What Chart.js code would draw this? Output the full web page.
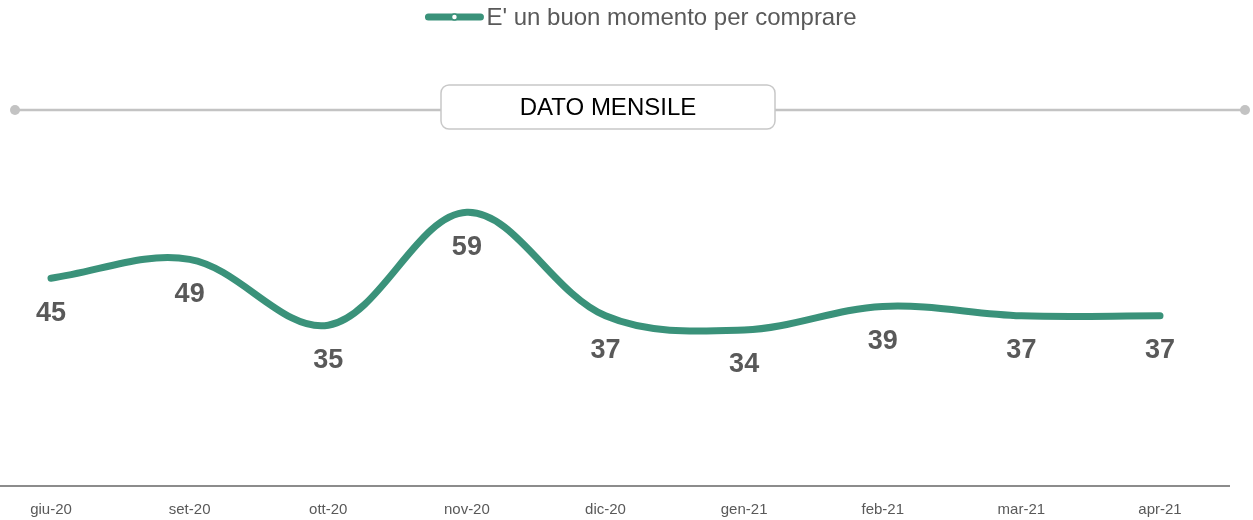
<!DOCTYPE html>
<html>
<head>
<meta charset="utf-8">
<script src="https://cdn.jsdelivr.net/npm/chart.js@4/dist/chart.umd.min.js"></script>
<style>
  html, body { margin: 0; padding: 0; background: #fff; }
  #wrap { width: 1253px; height: 520px; }
</style>
</head>
<body>
<div id="wrap"><canvas id="chart" width="1253" height="520"></canvas></div>
<script>
const months = ['giu-20', 'set-20', 'ott-20', 'nov-20', 'dic-20', 'gen-21', 'feb-21', 'mar-21', 'apr-21'];
const buonMomento = [45, 49, 35, 59, 37, 34, 39, 37, 37];
const seriesName = "E' un buon momento per comprare";
const boxTitle = 'DATO MENSILE';

const green = '#3A927A';
const grey = '#595959';
const fontFamily = '"Liberation Sans", Arial, sans-serif';

// legend drawn by hand: thick line with a small hollow marker, then the text
const legendPlugin = {
  id: 'lineLegend',
  afterDraw(chart) {
    const ctx = chart.ctx;
    ctx.save();
    ctx.font = '24px ' + fontFamily;
    const textW = ctx.measureText(seriesName).width;
    const symW = 58, gap = 3;
    const total = symW + gap + textW;
    const x0 = 641 - total / 2;
    const y = 17;
    ctx.strokeStyle = green;
    ctx.lineWidth = 7;
    ctx.lineCap = 'round';
    ctx.beginPath();
    ctx.moveTo(x0 + 3, y);
    ctx.lineTo(x0 + symW - 3, y);
    ctx.stroke();
    ctx.beginPath();
    ctx.arc(x0 + 29, y, 3, 0, Math.PI * 2);
    ctx.fillStyle = '#fff';
    ctx.fill();
    ctx.lineWidth = 1.5;
    ctx.stroke();
    ctx.fillStyle = grey;
    ctx.textBaseline = 'middle';
    ctx.textAlign = 'left';
    ctx.fillText(seriesName, x0 + symW + gap, y + 1);
    ctx.restore();
  }
};

// grey rule with end dots and the rounded "DATO MENSILE" box
const headerPlugin = {
  id: 'headerBox',
  afterDraw(chart) {
    const ctx = chart.ctx;
    const y = 110;
    ctx.save();
    ctx.strokeStyle = '#c3c3c3';
    ctx.lineWidth = 2.5;
    ctx.beginPath();
    ctx.moveTo(15, y);
    ctx.lineTo(1245, y);
    ctx.stroke();
    ctx.fillStyle = '#c3c3c3';
    [15, 1245].forEach(x => {
      ctx.beginPath();
      ctx.arc(x, y, 5, 0, Math.PI * 2);
      ctx.fill();
    });
    const bx = 441, by = 85, bw = 334, bh = 44;
    ctx.beginPath();
    ctx.roundRect(bx, by, bw, bh, 8);
    ctx.fillStyle = '#fff';
    ctx.fill();
    ctx.lineWidth = 1.5;
    ctx.strokeStyle = '#c8c8c8';
    ctx.stroke();
    ctx.fillStyle = '#000';
    ctx.font = '24px ' + fontFamily;
    ctx.textAlign = 'center';
    ctx.textBaseline = 'middle';
    ctx.fillText(boxTitle, bx + bw / 2, by + bh / 2 + 1);
    ctx.restore();
  }
};

// value labels under each point
const valuePlugin = {
  id: 'valueLabels',
  afterDatasetsDraw(chart) {
    const ctx = chart.ctx;
    const meta = chart.getDatasetMeta(0);
    ctx.save();
    ctx.fillStyle = grey;
    ctx.font = 'bold 27px ' + fontFamily;
    ctx.textAlign = 'center';
    ctx.textBaseline = 'middle';
    meta.data.forEach((pt, i) => {
      ctx.fillText(String(buonMomento[i]), pt.x, pt.y + 35);
    });
    ctx.restore();
  }
};

// x axis line running wider than the plot
const axisPlugin = {
  id: 'axisLine',
  beforeDatasetsDraw(chart) {
    const ctx = chart.ctx;
    ctx.save();
    ctx.strokeStyle = '#8c8c8c';
    ctx.lineWidth = 2;
    ctx.beginPath();
    ctx.moveTo(0, 486);
    ctx.lineTo(1230, 486);
    ctx.stroke();
    ctx.restore();
  }
};

new Chart(document.getElementById('chart'), {
  type: 'line',
  data: {
    labels: months,
    datasets: [{
      label: seriesName,
      data: buonMomento,
      borderColor: green,
      backgroundColor: green,
      borderWidth: 7,
      borderCapStyle: 'round',
      borderJoinStyle: 'round',
      pointRadius: 0,
      tension: 0.35,
      fill: false,
      clip: false
    }]
  },
  options: {
    responsive: false,
    animation: false,
    layout: { padding: { top: 40, left: 51, right: 93, bottom: 2 } },
    plugins: {
      legend: { display: false },
      tooltip: { enabled: false }
    },
    scales: {
      x: {
        offset: false,
        grid: { display: false, drawTicks: false },
        border: { display: false },
        afterFit: (scale) => { scale.height = 28; },
        ticks: {
          color: grey,
          font: { family: fontFamily, size: 15 },
          padding: 11,
          maxRotation: 0,
          autoSkip: false
        }
      },
      y: {
        display: false,
        min: 0,
        max: 95.6
      }
    }
  },
  plugins: [axisPlugin, valuePlugin, headerPlugin, legendPlugin]
});
</script>
</body>
</html>
